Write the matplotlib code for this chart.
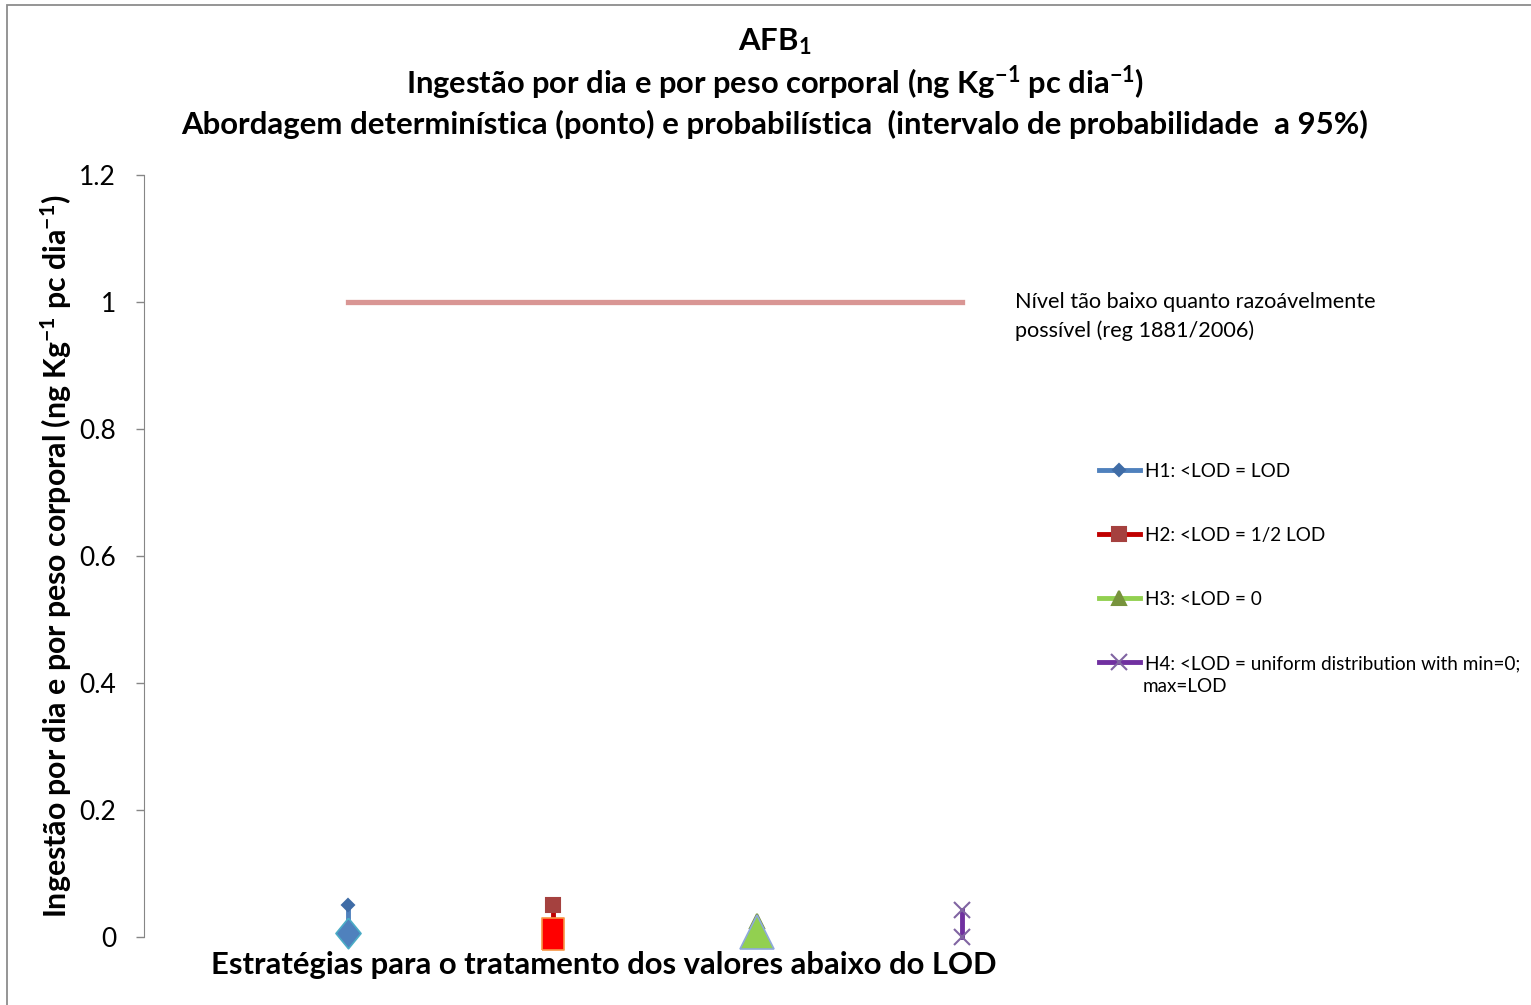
import numpy as np
import matplotlib.pyplot as plt
from matplotlib.lines import Line2D
from matplotlib.patches import Rectangle

plt.rcParams['font.family'] = ['Lato', 'DejaVu Sans']
plt.rcParams['mathtext.fontset'] = 'custom'
plt.rcParams['mathtext.rm'] = 'Lato'
plt.rcParams['mathtext.bf'] = 'Lato:bold'
plt.rcParams['mathtext.it'] = 'Lato:italic'

# strategies for values below the LOD
strategies = ['H1: <LOD = LOD', 'H2: <LOD = 1/2 LOD', 'H3: <LOD = 0',
              'H4: <LOD = uniform distribution with min=0;\nmax=LOD']
positions = [1, 2, 3, 4]

# deterministic estimate (point) and 95% probability interval
deterministic = [0.006, 0.005, 0.008, np.nan]
lower_95 = [0.006, 0.005, 0.008, 0.0005]
upper_95 = [0.050, 0.050, 0.025, 0.0425]

# reference level (reg 1881/2006)
limit_level = 1.0
limit_span = [1, 4]

# colours: interval line, small marker, big marker face, big marker edge
line_colors = ['#4F81BD', '#C00000', '#92D050', '#7030A0']
small_colors = ['#3F6CA6', '#A5413F', '#77933C', '#8064A2']
big_colors = ['#4F81BD', '#FF0000', '#92D050', 'none']
big_edges = ['#4BACC6', '#F79646', '#8EA9DB', 'none']
small_markers = ['D', 's', '^', 'x']
small_sizes = [6.6, 10.5, 10, 11]

# big markers (stretched like the original)
big_diamond = [(0, 0.5), (0.41, 0), (0, -0.5), (-0.41, 0), (0, 0.5)]
big_square = [(-0.36, -0.5), (0.36, -0.5), (0.36, 0.5), (-0.36, 0.5), (-0.36, -0.5)]
big_markers = [big_diamond, big_square, '^', None]
big_sizes = [22, 23, 24, 0]

fig = plt.figure(figsize=(15.31, 10.05), dpi=100)
ax = fig.add_axes([144 / 1531, 1 - 937 / 1005, 920 / 1531, 762 / 1005])

# outer chart frame
fig.add_artist(Rectangle((7 / 1531, -0.2), 2, 1.2 - 5 / 1005, transform=fig.transFigure,
                         fill=False, edgecolor='#8C8C8C', linewidth=1.3, clip_on=False))

ax.plot(limit_span, [limit_level, limit_level], color='#D99694', linewidth=3.8)

handles = []
for i in range(4):
    x = positions[i]
    ax.plot([x, x], [lower_95[i], upper_95[i]], color=line_colors[i], linewidth=3.5,
            marker=small_markers[i], markersize=small_sizes[i],
            markerfacecolor=small_colors[i], markeredgecolor=small_colors[i],
            markeredgewidth=1.5, zorder=3, clip_on=False)
    if big_markers[i] is not None:
        ax.plot([x], [deterministic[i]], linestyle='none', marker=big_markers[i],
                markersize=big_sizes[i], markerfacecolor=big_colors[i],
                markeredgecolor=big_edges[i], markeredgewidth=1.2, zorder=4, clip_on=False)
    handles.append(Line2D([], [], color=line_colors[i], linewidth=3.5,
                          marker=small_markers[i], markersize=small_sizes[i],
                          markerfacecolor=small_colors[i], markeredgecolor=small_colors[i],
                          markeredgewidth=1.5))

ax.set_xlim(0, 4.5)
ax.set_ylim(0, 1.2)
ax.set_yticks([0, 0.2, 0.4, 0.6, 0.8, 1.0, 1.2])
ax.set_yticklabels(['0', '0.2', '0.4', '0.6', '0.8', '1', '1.2'])
ax.set_xticks([])
for s in ['top', 'right', 'bottom']:
    ax.spines[s].set_visible(False)
ax.spines['left'].set_color('#868686')
ax.tick_params(axis='y', length=6, width=1, color='#868686', pad=14, labelsize=19)

ax.set_ylabel('Ingestão por dia e por peso corporal (ng Kg$^{\\mathbf{-1}}$ pc dia$^{\\mathbf{-1}}$)',
              fontsize=21.8, fontweight='bold', labelpad=4)
ax.set_xlabel('Estratégias para o tratamento dos valores abaixo do LOD',
              fontsize=22.3, fontweight='bold', labelpad=10)

fig.text(775 / 1531, 1 - 42 / 1005, 'AFB$_{\\mathbf{1}}$', ha='center', va='center',
         fontsize=22.4, fontweight='bold')
fig.text(775 / 1531, 1 - 83 / 1005,
         'Ingestão por dia e por peso corporal (ng Kg$^{\\mathbf{-1}}$ pc dia$^{\\mathbf{-1}}$)',
         ha='center', va='center', fontsize=22.2, fontweight='bold')
fig.text(775 / 1531, 1 - 124 / 1005,
         'Abordagem determinística (ponto) e probabilística  (intervalo de probabilidade  a 95%)',
         ha='center', va='center', fontsize=22.4, fontweight='bold')

fig.text(1015 / 1531, 1 - 292 / 1005,
         'Nível tão baixo quanto razoávelmente\npossível (reg 1881/2006)',
         ha='left', va='top', fontsize=15.6, linespacing=1.5)

# legend: first line of each label next to the handle, wrapped part below
legend_labels = [s.split('\n')[0] for s in strategies]
leg = fig.legend(handles, legend_labels, loc='upper left',
                 bbox_to_anchor=(1099 / 1531, 1 - 463 / 1005),
                 frameon=False, fontsize=13.6, handlelength=2.17, handletextpad=0.26,
                 labelspacing=2.49, borderaxespad=0, borderpad=0)
for s in strategies:
    if '\n' in s:
        fig.text(1143 / 1531, 1 - 686 / 1005, s.split('\n', 1)[1], ha='left', va='center',
                 fontsize=13.6)

plt.savefig('out.png', dpi=100)
